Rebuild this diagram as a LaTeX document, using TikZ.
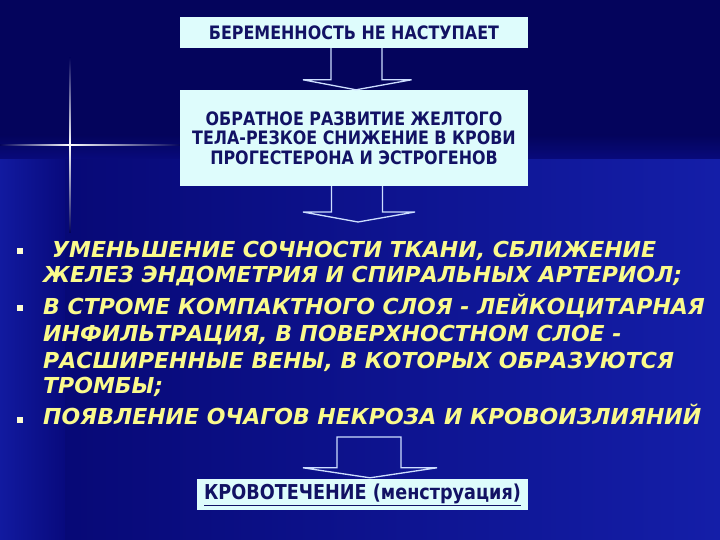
\documentclass[tikz,border=0pt]{standalone}
\usepackage{fontspec}
\setmainfont{Liberation Sans}
\newfontfamily\bulletfont{DejaVu Sans}
\newfontfamily\boxfont{DejaVu Sans}[FakeStretch=0.86]
\usetikzlibrary{calc}
\definecolor{bgdark}{RGB}{4,4,92}
\definecolor{bgmid}{RGB}{8,10,125}
\definecolor{bgbright}{RGB}{20,30,168}
\definecolor{boxfill}{RGB}{222,252,252}
\definecolor{boxtext}{RGB}{18,18,100}
\definecolor{bultext}{RGB}{250,250,140}
\definecolor{arrline}{RGB}{205,222,255}
\tikzset{
  box/.style={fill=boxfill, draw=none, inner sep=0pt, text=boxtext,
    font=\boxfont\fontsize{18.5}{19.5}\selectfont\bfseries, align=center},
  hollow/.style={draw=arrline, line width=1.3pt, line join=miter},
  bul/.style={fill=bultext!40!white, draw=none},
  btext/.style={anchor=base west, inner sep=0pt, text=bultext,
    font=\bulletfont\fontsize{22}{24}\selectfont\bfseries\itshape},
}
\begin{document}
\begin{tikzpicture}[x=1pt,y=-1pt]
\useasboundingbox (0,0) rectangle (720,540);
% background
\fill[bgdark] (0,0) rectangle (720,540);
\shade[top color=bgdark, bottom color=bgmid] (0,135) rectangle (720,160);
\shade[left color=bgmid!80!bgdark, right color=bgbright] (65,160) rectangle (720,540);
\shade[left color=bgbright!80!bgmid, right color=bgmid] (0,160) rectangle (65,540);
% sparkle
\shade[left color=bgdark, right color=white] (0,144.2) rectangle (70,145.8);
\shade[left color=white, right color=bgdark] (70,144.2) rectangle (180,145.8);
\shade[top color=bgdark, bottom color=white] (69.2,58) rectangle (70.8,145);
\shade[top color=white, bottom color=bgdark] (69.2,145) rectangle (70.8,232);
\fill[white] (70,145) circle (1.6);

% boxes
\node[box, minimum width=348pt, minimum height=31pt] (b1) at (354,32.5)
  {БЕРЕМЕННОСТЬ НЕ НАСТУПАЕТ};
\node[box, minimum width=348pt, minimum height=96pt] (b2) at (354,138)
  {ОБРАТНОЕ РАЗВИТИЕ ЖЕЛТОГО\\ТЕЛА-РЕЗКОЕ СНИЖЕНИЕ В КРОВИ\\ПРОГЕСТЕРОНА И ЭСТРОГЕНОВ};
\node[box, minimum width=331pt, minimum height=31pt,
  font=\boxfont\fontsize{20.5}{22}\selectfont\bfseries] (b3) at (362.5,494.5)
  {\underline{КРОВОТЕЧЕНИЕ (менструация)}};

% arrow 1
\coordinate (a1top) at ($(b1.south)+(2.5,0)$);
\coordinate (a1tip) at ($(b2.north)+(2,0)$);
\draw[hollow] ($(a1top)+(-25.5,0)$) |- ($(a1tip)+(-53,-10)$) -- (a1tip)
  -- ($(a1tip)+(55.5,-10)$) -| ($(a1top)+(25.5,0)$);
% arrow 2
\coordinate (a2top) at ($(b2.south)+(3,0)$);
\coordinate (a2tip) at (358,222);
\draw[hollow] ($(a2top)+(-25.5,0)$) |- ($(a2tip)+(-55,-10)$) -- (a2tip)
  -- ($(a2tip)+(57,-10)$) -| ($(a2top)+(25.5,0)$);
% arrow 3
\coordinate (a3top) at (369,437);
\coordinate (a3tip) at ($(b3.north)+(7.5,-1)$);
\draw[hollow] ($(a3top)+(-32,0)$) |- ($(a3tip)+(-67,-10)$) -- (a3tip)
  -- ($(a3tip)+(67,-10)$) -| ($(a3top)+(32,0)$) -- cycle;

% bullets
\fill[bul] (17,248) rectangle (23,254);
\fill[bul] (17,305) rectangle (23,311);
\fill[bul] (17,417) rectangle (23,423);
\node[btext] (p1a) at (52,257) {УМЕНЬШЕНИЕ СОЧНОСТИ ТКАНИ, СБЛИЖЕНИЕ};
\node[btext] (p1b) at (43,282) {ЖЕЛЕЗ ЭНДОМЕТРИЯ И СПИРАЛЬНЫХ АРТЕРИОЛ;};
\node[btext] (p2a) at (43,314) {В СТРОМЕ КОМПАКТНОГО СЛОЯ - ЛЕЙКОЦИТАРНАЯ};
\node[btext] (p2b) at (43,341) {ИНФИЛЬТРАЦИЯ, В ПОВЕРХНОСТНОМ СЛОЕ -};
\node[btext] (p2c) at (43,368) {РАСШИРЕННЫЕ ВЕНЫ, В КОТОРЫХ ОБРАЗУЮТСЯ};
\node[btext] (p2d) at (43,393) {ТРОМБЫ;};
\node[btext] (p3a) at (43,424) {ПОЯВЛЕНИЕ ОЧАГОВ НЕКРОЗА И КРОВОИЗЛИЯНИЙ};
\end{tikzpicture}
\end{document}
